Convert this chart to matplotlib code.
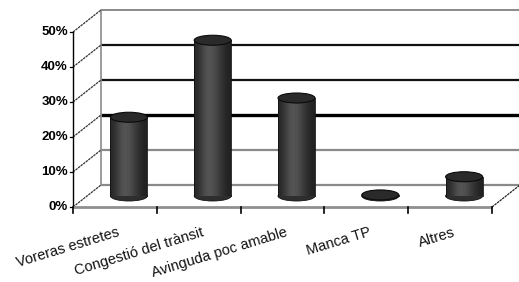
import numpy as np
import matplotlib
matplotlib.use("Agg")
import matplotlib.pyplot as plt
from matplotlib.patches import Ellipse, Polygon

categories = ["Voreras estretes", "Congestió del trànsit", "Avinguda poc amable", "Manca TP", "Altres"]
values = [22.5, 44.5, 28.0, 0.3, 5.5]
yticks = [0, 10, 20, 30, 40, 50]
ytick_labels = ["0%", "10%", "20%", "30%", "40%", "50%"]

plt.rcParams['font.family'] = ['Liberation Sans', 'DejaVu Sans']

W, H = 519, 282
fig = plt.figure(figsize=(W / 100, H / 100), dpi=100)
ax = fig.add_axes([0, 0, 1, 1])
ax.set_axis_off()

# pixel geometry of the front axis
x0px, cat_px = 73.0, 83.8
y0px, unit_px = 207.0, 3.5
ax.set_xlim(-x0px / cat_px, (W - x0px) / cat_px)
ax.set_ylim((y0px - H) / unit_px, y0px / unit_px)

n = len(categories)
DX = 28 / cat_px      # depth offset (categories)
DY = 22 / unit_px     # depth offset (percent)
ymax = 50

# back wall
ax.add_patch(Polygon([(DX, DY), (n + DX, DY), (n + DX, ymax + DY), (DX, ymax + DY)],
                     closed=True, facecolor='white', edgecolor='none', zorder=0))
grid_style = {0: ('#8a8a8a', 1.6), 10: ('#8a8a8a', 1.6), 20: ('#000000', 2.4),
              30: ('#111111', 1.6), 40: ('#111111', 1.6), 50: ('#8a8a8a', 1.4)}
for v in yticks:
    c, lw = grid_style[v]
    ax.plot([DX, n + DX], [v + DY, v + DY], color=c, lw=lw, zorder=1, solid_capstyle='butt')
ax.plot([DX, DX], [DY, ymax + DY], color='#8a8a8a', lw=1.2, zorder=1)

# left wall
for v in yticks:
    ax.plot([0, DX], [v, v + DY], color='#333333', lw=0.9, ls=(0, (2, 0.6)), zorder=1)
    ax.plot([-0.035, 0], [v, v], color='black', lw=0.9, zorder=2)
ax.plot([0, 0], [0, ymax], color='black', lw=1.0, zorder=2)

# floor
ax.plot([0, n], [0, 0], color='#8f8f8f', lw=2.0, zorder=2, solid_capstyle='butt')
ax.plot([n, n + DX], [0, DY], color='#222222', lw=0.9, ls=(0, (2, 0.6)), zorder=2)
for i in range(n + 1):
    ax.plot([i, i], [0, -1.6], color='black', lw=1.2, zorder=2)

# cylinders
bw = 37 / cat_px
eh = 10 / unit_px
grad = np.array([[0.16, 0.20, 0.27, 0.33, 0.33, 0.30, 0.25, 0.20, 0.16, 0.13]])
cmap = matplotlib.colors.LinearSegmentedColormap.from_list('g', ['#000000', '#ffffff'])
for i, v in enumerate(values):
    cx = i + 0.5 + DX / 2
    base = DY / 2
    top = base + v
    ax.add_patch(Ellipse((cx, base), bw, eh, facecolor='#2e2e2e', edgecolor='#111111',
                         lw=0.6, zorder=3))
    bars = ax.bar([cx], [v], bottom=[base], width=bw, color='#3a3a3a', edgecolor='none', zorder=3)
    im = ax.imshow(grad, cmap=cmap, vmin=0, vmax=1, aspect='auto', interpolation='bicubic',
                   extent=(cx - bw / 2, cx + bw / 2, base, top), zorder=3.1)
    im.set_clip_path(bars[0])
    ax.plot([cx - bw / 2, cx - bw / 2], [base, top], color='#111111', lw=0.6, zorder=3.2)
    ax.plot([cx + bw / 2, cx + bw / 2], [base, top], color='#111111', lw=0.6, zorder=3.2)
    ax.add_patch(Ellipse((cx, top), bw, eh, facecolor='#2a2a2a', edgecolor='#0a0a0a',
                         lw=0.8, zorder=3.3))

# y tick labels
for v, lab in zip(yticks, ytick_labels):
    ax.text(-0.06, v, lab, ha='right', va='center', fontsize=9.5, fontweight='bold',
            color='black', zorder=4)

# x tick labels
ylab = (y0px - 225) / unit_px
for i, lab in enumerate(categories):
    ax.text(i + 0.5 + 0.03, ylab, lab, ha='right', va='top', rotation=17,
            rotation_mode='anchor', fontsize=10.5, color='#111111', zorder=4)

fig.savefig('out.png', dpi=100)
